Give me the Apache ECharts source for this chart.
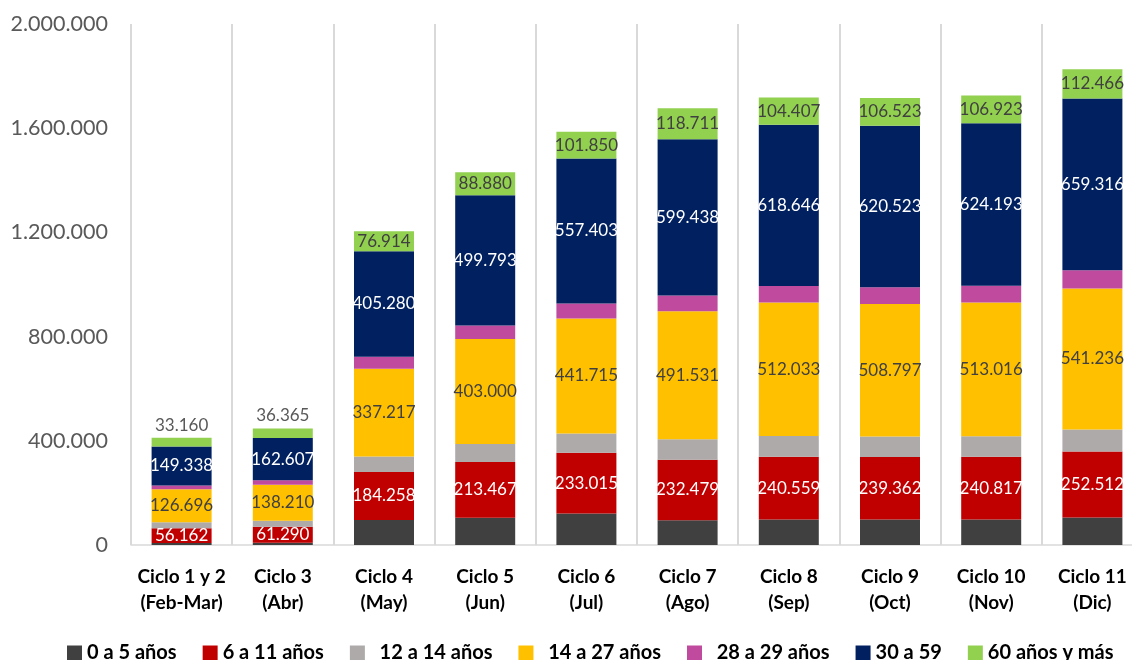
<!doctype html>
<html>
<head>
    <meta charset="utf-8">
    <title>Ciclos por edad</title>
    <script type="text/javascript" src="https://cdn.jsdelivr.net/npm/echarts@6/dist/echarts.min.js"></script>
    <style>
        html, body { margin: 0; padding: 0; background: #fff; overflow: hidden; }
    </style>
</head>
<body>
<!-- el area del grafico es algo mas ancha que la ventana: la ultima columna queda cortada -->
<div id="container" style="width:1143px;height:660px"></div>
<script type="text/javascript">

    // categorias (eje x)
    var ciclos = ['Ciclo 1 y 2\n(Feb-Mar)', 'Ciclo 3\n(Abr)', 'Ciclo 4\n(May)', 'Ciclo 5\n(Jun)', 'Ciclo 6\n(Jul)',
        'Ciclo 7\n(Ago)', 'Ciclo 8\n(Sep)', 'Ciclo 9\n(Oct)', 'Ciclo 10\n(Nov)', 'Ciclo 11\n(Dic)'];

    // series por grupo de edad (las sin etiqueta son estimadas del grafico)
    var edad0a5   = [8000, 9000, 96000, 105000, 121000, 95000, 98000, 98000, 98000, 106000];
    var edad6a11  = [56162, 61290, 184258, 213467, 233015, 232479, 240559, 239362, 240817, 252512];
    var edad12a14 = [23000, 23000, 59000, 69000, 74000, 78000, 80000, 79000, 79000, 85000];
    var edad14a27 = [126696, 138210, 337217, 403000, 441715, 491531, 512033, 508797, 513016, 541236];
    var edad28a29 = [15000, 17000, 46000, 52000, 57000, 61000, 64000, 64000, 64000, 70000];
    var edad30a59 = [149338, 162607, 405280, 499793, 557403, 599438, 618646, 620523, 624193, 659316];
    var edad60    = [33160, 36365, 76914, 88880, 101850, 118711, 104407, 106523, 106923, 112466];

    var yTicks = { min: 0, max: 2000000, step: 400000 };

    function miles(v) {
        return String(Math.round(v)).replace(/\B(?=(\d{3})+(?!\d))/g, '.');
    }

    var fuente = 'Lato, "Open Sans", sans-serif';

    function lbl(color) {
        return {
            show: true,
            position: 'inside',
            color: color,
            fontFamily: fuente,
            fontSize: 17,
            formatter: function (p) { return miles(p.value); }
        };
    }

    // los dos primeros ciclos llevan la etiqueta de 60+ encima de la barra
    var datos60 = edad60.map(function (v, i) {
        if (i < 2) {
            return { value: v, label: { position: 'top', color: '#595959', distance: 4 } };
        }
        return v;
    });

    var dom = document.getElementById('container');
    var myChart = echarts.init(dom);

    var option = {
        animation: false,
        textStyle: { fontFamily: fuente },
        grid: { left: 131, right: 0, top: 24, bottom: 115 },
        legend: {
            top: 638,
            left: 62,
            icon: 'rect',
            itemWidth: 15,
            itemHeight: 15,
            itemGap: 26,
            textStyle: { fontFamily: fuente, fontWeight: 'bold', fontSize: 20, color: '#000' },
            data: ['0 a 5 años', '6 a 11 años', '  12 a 14 años', '  14 a 27 años', '  28 a 29 años', '30 a 59', '60 años y más']
        },
        xAxis: {
            type: 'category',
            data: ciclos,
            axisLine: { lineStyle: { color: '#d9d9d9', width: 1.5 } },
            axisTick: { show: false },
            splitLine: { show: true, interval: 0, lineStyle: { color: '#d9d9d9', width: 2 } },
            axisLabel: {
                interval: 0,
                margin: 19,
                color: '#000',
                fontWeight: 'bold',
                fontSize: 19,
                lineHeight: 26,
                fontFamily: fuente
            }
        },
        yAxis: {
            type: 'value',
            min: yTicks.min,
            max: yTicks.max,
            interval: yTicks.step,
            axisLine: { show: false },
            axisTick: { show: false },
            splitLine: { show: false },
            axisLabel: {
                margin: 23,
                color: '#595959',
                fontSize: 21.5,
                fontFamily: fuente,
                formatter: miles
            }
        },
        series: [
            { name: '0 a 5 años', type: 'bar', stack: 'total', barWidth: 60, itemStyle: { color: '#404040' }, data: edad0a5 },
            { name: '6 a 11 años', type: 'bar', stack: 'total', barWidth: 60, itemStyle: { color: '#c00000' }, label: lbl('#ffffff'), data: edad6a11 },
            { name: '  12 a 14 años', type: 'bar', stack: 'total', barWidth: 60, itemStyle: { color: '#aeaaaa' }, data: edad12a14 },
            { name: '  14 a 27 años', type: 'bar', stack: 'total', barWidth: 60, itemStyle: { color: '#ffc000' }, label: lbl('#404040'), data: edad14a27 },
            { name: '  28 a 29 años', type: 'bar', stack: 'total', barWidth: 60, itemStyle: { color: '#c04a9e' }, data: edad28a29 },
            { name: '30 a 59', type: 'bar', stack: 'total', barWidth: 60, itemStyle: { color: '#002060' }, label: lbl('#ffffff'), data: edad30a59 },
            { name: '60 años y más', type: 'bar', stack: 'total', barWidth: 60, itemStyle: { color: '#92d050' }, label: lbl('#404040'), data: datos60 }
        ]
    };

    myChart.setOption(option, true);
</script>
</body>
</html>
